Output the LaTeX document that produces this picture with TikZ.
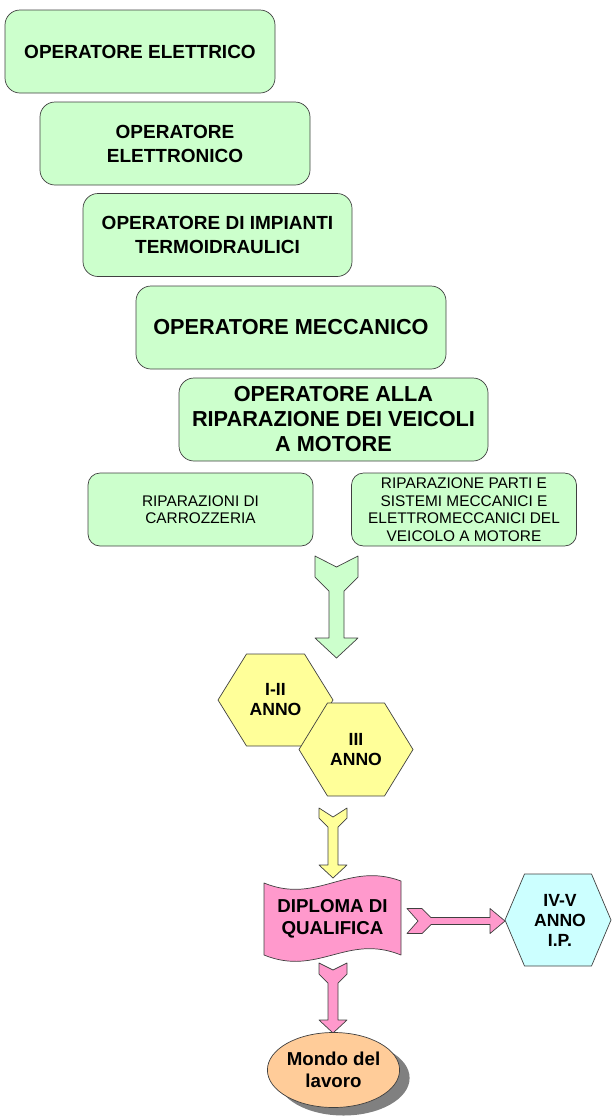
\documentclass[tikz,border=0pt]{standalone}
\usepackage{fontspec}
\setmainfont{Liberation Sans}
\usepackage{xcolor}
\usetikzlibrary{positioning,shapes,calc,shadows}
\definecolor{boxGreen}{HTML}{CCFFCC}
\definecolor{hexYellow}{HTML}{FFFF99}
\definecolor{diplPink}{HTML}{FF99CC}
\definecolor{hexCyan}{HTML}{CCFFFF}
\definecolor{worldOrange}{HTML}{FFCC99}
\tikzstyle{shapeLine}=[draw=black!75, line width=0.7pt, line join=round]
\tikzstyle{boxBig}   =[rectangle, rounded corners=15pt, shapeLine, fill=boxGreen, minimum height=83pt, inner sep=0pt, align=center, font=\fontsize{19}{24}\selectfont\bfseries]
\tikzstyle{boxLarge} =[boxBig, font=\fontsize{21.7}{25}\selectfont\bfseries]
\tikzstyle{boxSmall} =[rectangle, rounded corners=12pt, shapeLine, fill=boxGreen, minimum height=73pt, minimum width=225pt, inner sep=0pt, align=center, font=\fontsize{15.4}{17.6}\selectfont]
\tikzstyle{hexText}  =[align=center, inner sep=0pt, font=\fontsize{17.6}{20}\selectfont\bfseries]
\tikzstyle{bigText}  =[align=center, inner sep=0pt, font=\fontsize{18.7}{21.7}\selectfont\bfseries]
% block arrow: length, tail half width, shaft half width, tail side, notch, head
\tikzset{pics/fatarrow/.style n args={6}{code={
  \draw[pic actions] (0,#2) -- (#4,#2) -- ({#4+#2-#3},#3) -- ({#1-#6},#3) -- ({#1-#6},#2) -- (#1,0)
    -- ({#1-#6},-#2) -- ({#1-#6},-#3) -- ({#4+#2-#3},-#3) -- (#4,-#2) -- (0,-#2) -- (#5,0) -- cycle;
}}}
% hexagon: centre, half width, corner offset, half height, fill
\newcommand{\drawHex}[5]{%
  \filldraw[shapeLine, fill=#5] ($(#1)+(-#2,0)$) -- ++(#3,-#4) -- ++({2*#2-2*#3},0) -- ++(#3,#4)
    -- ++(-#3,#4) -- ++({2*#3-2*#2},0) -- cycle;}

\begin{document}
\begin{tikzpicture}[x=1pt, y=-1pt]
  \useasboundingbox (0,0) rectangle (614,1117);
  % qualifiche
  \node[boxBig, minimum width=270pt] (elettrico)   at (140,51.5)   {OPERATORE ELETTRICO};
  \node[boxBig, minimum width=270pt] (elettronico) at (175,143.5)  {OPERATORE\\ELETTRONICO};
  \node[boxBig, minimum width=269pt] (termo)       at (217.5,235)  {OPERATORE DI IMPIANTI\\TERMOIDRAULICI};
  \node[boxLarge, minimum width=310pt] (meccanico) at (291,327.5)  {OPERATORE MECCANICO};
  \node[boxLarge, minimum width=309pt] (veicoli)   at (333.5,419.5) {OPERATORE ALLA\\RIPARAZIONE DEI VEICOLI\\A MOTORE};
  \node[boxSmall] (carrozzeria) at (200.5,509.5) {RIPARAZIONI DI\\CARROZZERIA};
  \node[boxSmall] (parti)       at (464,509.5)   {RIPARAZIONE PARTI E\\SISTEMI MECCANICI E\\ELETTROMECCANICI DEL\\VEICOLO A MOTORE};
  \pic[shapeLine, fill=boxGreen, rotate=-90] at (336.5,556) {fatarrow={102}{21.5}{7.5}{21}{11}{20}};
  % anni
  \coordinate (c12) at (275.5,700);
  \drawHex{c12}{57.5}{28.5}{46}{hexYellow}
  \node[hexText] (anni12) at (c12) {I-II\\ANNO};
  \coordinate (c3) at (356,749.5);
  \drawHex{c3}{57}{28.5}{46.5}{hexYellow}
  \node[hexText] (anno3) at (c3) {III\\ANNO};
  \pic[shapeLine, fill=hexYellow, rotate=-90] at (333,808) {fatarrow={70}{14}{5}{10}{9}{13}};
  % diploma
  \filldraw[shapeLine, fill=diplPink] (264,883) .. controls (318,905) and (347,861) .. (401,881)
    -- (401,955) .. controls (347,933) and (318,977) .. (264,955) -- cycle;
  \node[bigText] (dipl) at (332.5,919) {DIPLOMA DI\\QUALIFICA};
  \pic[shapeLine, fill=diplPink] at (407,921) {fatarrow={98}{12.5}{3.5}{15}{11}{15}};
  \coordinate (c45) at (558,920);
  \drawHex{c45}{53}{19.5}{46}{hexCyan}
  \node[hexText] (ivv) at (560,920) {IV-V\\ANNO\\I.P.};
  \pic[shapeLine, fill=diplPink, rotate=-90] at (333,963) {fatarrow={70}{14}{5}{11}{7}{13}};
  \node[ellipse, shapeLine, fill=worldOrange, minimum width=125pt, minimum height=75pt, bigText,
        drop shadow={shadow xshift=10pt, shadow yshift=-8pt, fill=black!50, opacity=1}] (world) at (333.5,1070) {Mondo del\\lavoro};
\end{tikzpicture}
\end{document}
